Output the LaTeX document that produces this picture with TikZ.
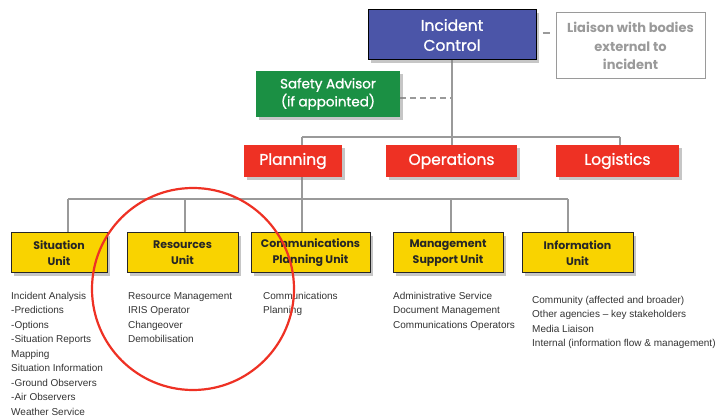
\documentclass[tikz,border=0pt]{standalone}
\usepackage{fontspec}
\setmainfont{Liberation Sans}
\newfontfamily\boxfont{Poppins}
\newfontfamily\boxfontmed{Poppins}[FakeBold=1.2]
\usepackage{xcolor}
\usepackage{tikz}
\usetikzlibrary{positioning,shadows,backgrounds}

\definecolor{ctrlblue}{HTML}{4B55A8}
\definecolor{safegreen}{HTML}{1B9044}
\definecolor{sectred}{HTML}{EE3124}
\definecolor{unityellow}{HTML}{F9D300}
\definecolor{linkgray}{HTML}{9A9A9A}
\definecolor{listgray}{HTML}{333333}

\begin{document}
\begin{tikzpicture}[x=1pt, y=-1pt,
    box/.style={rectangle, inner sep=2pt, align=center, text=white,
        drop shadow={shadow xshift=3pt, shadow yshift=-3pt, opacity=0.45}},
    ctrl/.style={box, draw=black, line width=1pt, fill=ctrlblue,
        font=\boxfontmed\fontsize{15.5}{20}\selectfont},
    safety/.style={box, fill=safegreen, font=\boxfontmed\fontsize{13.5}{18}\selectfont},
    section/.style={box, fill=sectred, minimum height=32pt,
        font=\boxfontmed\fontsize{15.5}{18}\selectfont},
    unit/.style={box, draw=black!85, line width=1pt, fill=unityellow, text=black!85,
        minimum height=40pt, font=\boxfont\bfseries\fontsize{11}{16}\selectfont},
    liaison/.style={rectangle, draw=linkgray, line width=1pt, fill=white, align=center,
        text=linkgray, font=\boxfont\bfseries\fontsize{13}{18.5}\selectfont},
    duties/.style={anchor=north west, inner sep=0pt, align=left, text=listgray,
        font=\fontsize{10}{14.5}\selectfont},
    link/.style={draw=linkgray, line width=1.8pt}
]
    \useasboundingbox (0,0) rectangle (726,419);

    \node[ctrl, minimum width=168pt, minimum height=50pt] (ic) at (452,35) {Incident\\Control};
    \node[liaison, minimum width=149pt, minimum height=66pt] (liaison) at (630.5,46) {Liaison with bodies\\external to\\incident};
    \node[safety, minimum width=144pt, minimum height=46pt] (safety) at (328,94) {Safety Advisor\\(if appointed)};

    \node[section, minimum width=98pt] (planning) at (293,161) {Planning};
    \node[section, minimum width=131pt] (operations) at (451.5,161) {Operations};
    \node[section, minimum width=123pt] (logistics) at (617.5,161) {Logistics};

    \node[unit, minimum width=96pt] (situation) at (59,253) {Situation\\Unit};
    \node[unit, minimum width=111pt] (resources) at (182.5,253) {Resources\\Unit};
    \node[unit, minimum width=119pt] (comm) at (310.5,253) {Communications\\Planning Unit};
    \node[unit, minimum width=110pt] (mgmt) at (448,253) {Management\\Support Unit};
    \node[unit, minimum width=111pt] (info) at (577.5,253) {Information\\Unit};

    \node[duties] (sitlist) at (11,292) {Incident Analysis\\-Predictions\\-Options\\-Situation Reports\\Mapping\\Situation Information\\-Ground Observers\\-Air Observers\\Weather Service};
    \node[duties] (reslist) at (128,292) {Resource Management\\IRIS Operator\\Changeover\\Demobilisation};
    \node[duties] (commlist) at (263,292) {Communications\\Planning};
    \node[duties] (mgmtlist) at (393,292) {Administrative Service\\Document Management\\Communications Operators};
    \node[duties] (infolist) at (532,296) {Community (affected and broader)\\Other agencies -- key stakeholders\\Media Liaison\\Internal (information flow \& management)};

    \coordinate (top bus west) at (302,137);
    \coordinate (top bus east) at (620,137);
    \coordinate (low bus west) at (68,199);
    \coordinate (low bus east) at (568,199);

    \begin{pgfonlayer}{background}
        \draw[link] (ic.south) -- (ic.south |- operations.north);
        \draw[link] ([xshift=6pt,yshift=2pt]ic.east) -- ([xshift=-6pt,yshift=2pt]ic.east -| liaison.west);
        \draw[link, line width=1.6pt, dash pattern=on 6pt off 4pt] ([yshift=-4pt]safety.east) -- ([yshift=-4pt]safety.east -| ic.south);
        \draw[link] (top bus west) -- (top bus east);
        \draw[link] (top bus east) -- (top bus east |- logistics.north);
        \draw[link] (top bus west) -- (top bus west |- low bus west);
        \draw[link] (low bus west) -- (low bus east);
        \foreach \u/\dx in {situation/9, resources/2.5, comm/-8.5, mgmt/3, info/-9.5}
            \draw[link] ([xshift=\dx pt]\u.north) -- ([xshift=\dx pt]\u.north |- low bus west);
    \end{pgfonlayer}

    \draw[sectred, line width=2.2pt] (193,289) circle[radius=101pt];
\end{tikzpicture}
\end{document}
